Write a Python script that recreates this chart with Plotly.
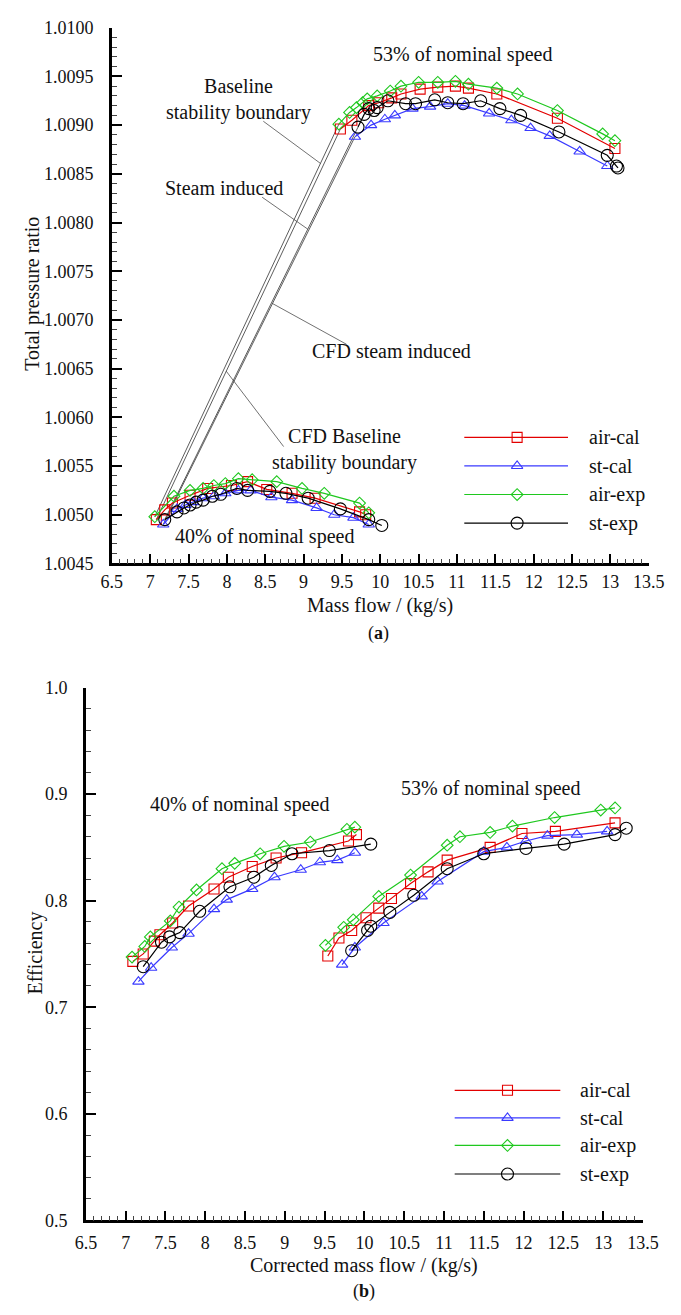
import plotly.graph_objects as go

W, H = 681, 1315
FONT = "Liberation Serif"

# ---------------- (a) total pressure ratio vs mass flow ----------------
# 40% of nominal speed
pr40_air_cal_x = [7.08, 7.19, 7.29, 7.52, 7.75, 8.06, 8.27, 8.52, 8.85, 9.15, 9.73, 9.81]
pr40_air_cal_y = [1.00495, 1.00505, 1.00512, 1.00520, 1.00527, 1.00530, 1.00534, 1.00526, 1.00522, 1.00517, 1.00503, 1.00500]
pr40_st_cal_x = [7.17, 7.35, 7.46, 7.56, 7.69, 7.83, 7.98, 8.15, 8.31, 8.58, 8.85, 9.17, 9.40, 9.65, 9.85]
pr40_st_cal_y = [1.00490, 1.00506, 1.00510, 1.00513, 1.00517, 1.00519, 1.00522, 1.00525, 1.00525, 1.00518, 1.00515, 1.00507, 1.00500, 1.00497, 1.00490]
pr40_air_exp_x = [7.06, 7.31, 7.52, 7.69, 7.83, 7.98, 8.15, 8.33, 8.65, 8.98, 9.27, 9.73, 9.85]
pr40_air_exp_y = [1.00498, 1.00519, 1.00525, 1.00527, 1.00530, 1.00532, 1.00537, 1.00536, 1.00534, 1.00527, 1.00522, 1.00512, 1.00502]
pr40_st_exp_x = [7.19, 7.35, 7.44, 7.52, 7.60, 7.69, 7.81, 7.92, 8.13, 8.27, 8.56, 8.77, 9.06, 9.48, 9.85, 10.02]
pr40_st_exp_y = [1.00495, 1.00503, 1.00507, 1.00510, 1.00513, 1.00515, 1.00519, 1.00521, 1.00527, 1.00525, 1.00524, 1.00522, 1.00517, 1.00506, 1.00495, 1.00489]

# 53% of nominal speed
pr53_air_cal_x = [9.48, 9.63, 9.85, 9.98, 10.15, 10.27, 10.52, 10.75, 10.98, 11.15, 11.52, 12.31, 13.06]
pr53_air_cal_y = [1.00896, 1.00905, 1.00920, 1.00923, 1.00928, 1.00932, 1.00937, 1.00939, 1.00940, 1.00938, 1.00932, 1.00907, 1.00876]
pr53_st_cal_x = [9.67, 9.88, 10.06, 10.19, 10.42, 10.65, 10.88, 11.10, 11.42, 11.71, 11.96, 12.21, 12.60, 12.96]
pr53_st_cal_y = [1.00888, 1.00900, 1.00906, 1.00910, 1.00917, 1.00919, 1.00922, 1.00920, 1.00912, 1.00905, 1.00897, 1.00889, 1.00873, 1.00858]
pr53_air_exp_x = [9.46, 9.60, 9.69, 9.77, 9.83, 9.96, 10.13, 10.27, 10.50, 10.75, 10.98, 11.15, 11.52, 11.79, 12.31, 12.90, 13.06]
pr53_air_exp_y = [1.00901, 1.00913, 1.00918, 1.00923, 1.00927, 1.00930, 1.00935, 1.00940, 1.00944, 1.00944, 1.00945, 1.00942, 1.00938, 1.00932, 1.00915, 1.00891, 1.00884]
pr53_st_exp_x = [9.71, 9.79, 9.85, 9.92, 9.96, 10.10, 10.33, 10.46, 10.71, 10.88, 11.08, 11.31, 11.56, 11.83, 12.33, 12.96, 13.08, 13.10]
pr53_st_exp_y = [1.00898, 1.00911, 1.00917, 1.00915, 1.00918, 1.00925, 1.00922, 1.00922, 1.00926, 1.00923, 1.00922, 1.00925, 1.00917, 1.00910, 1.00893, 1.00869, 1.00858, 1.00856]

# ---------------- (b) efficiency vs corrected mass flow ----------------
# 40% of nominal speed
ef40_air_cal_x = [7.09, 7.22, 7.36, 7.43, 7.59, 7.79, 8.11, 8.29, 8.59, 8.89, 9.21, 9.80, 9.90]
ef40_air_cal_y = [0.743, 0.750, 0.762, 0.768, 0.779, 0.795, 0.811, 0.822, 0.832, 0.840, 0.845, 0.856, 0.862]
ef40_st_cal_x = [7.16, 7.32, 7.58, 7.79, 8.11, 8.27, 8.59, 8.87, 9.20, 9.44, 9.66, 9.88]
ef40_st_cal_y = [0.724, 0.737, 0.756, 0.769, 0.792, 0.801, 0.811, 0.822, 0.829, 0.836, 0.838, 0.845]
ef40_air_exp_x = [7.08, 7.24, 7.31, 7.56, 7.67, 7.89, 8.21, 8.37, 8.69, 8.99, 9.32, 9.78, 9.88]
ef40_air_exp_y = [0.747, 0.757, 0.766, 0.781, 0.794, 0.810, 0.830, 0.835, 0.844, 0.851, 0.855, 0.867, 0.869]
ef40_st_exp_x = [7.22, 7.45, 7.55, 7.68, 7.93, 8.31, 8.61, 8.83, 9.09, 9.56, 10.08]
ef40_st_exp_y = [0.738, 0.761, 0.766, 0.770, 0.790, 0.813, 0.822, 0.833, 0.844, 0.847, 0.853]

# 53% of nominal speed
ef53_air_cal_x = [9.54, 9.68, 9.84, 10.02, 10.18, 10.34, 10.58, 10.80, 11.04, 11.58, 11.98, 12.40, 13.15]
ef53_air_cal_y = [0.748, 0.765, 0.772, 0.784, 0.793, 0.802, 0.816, 0.827, 0.838, 0.850, 0.863, 0.865, 0.873]
ef53_st_cal_x = [9.72, 9.88, 10.24, 10.72, 10.92, 11.50, 11.79, 12.03, 12.30, 12.67, 13.05]
ef53_st_cal_y = [0.740, 0.756, 0.779, 0.804, 0.818, 0.846, 0.850, 0.856, 0.861, 0.862, 0.865]
ef53_air_exp_x = [9.51, 9.74, 9.86, 10.18, 10.58, 11.04, 11.20, 11.58, 11.86, 12.39, 12.97, 13.15]
ef53_air_exp_y = [0.758, 0.775, 0.782, 0.804, 0.824, 0.852, 0.860, 0.864, 0.870, 0.878, 0.885, 0.887]
ef53_st_exp_x = [9.84, 10.04, 10.08, 10.32, 10.62, 11.04, 11.50, 12.03, 12.51, 13.15, 13.29]
ef53_st_exp_y = [0.753, 0.772, 0.776, 0.789, 0.805, 0.830, 0.844, 0.849, 0.853, 0.862, 0.868]

series_names = ["air-cal", "st-cal", "air-exp", "st-exp"]

# tick labels
flow_ticks = [6.5, 7, 7.5, 8, 8.5, 9, 9.5, 10, 10.5, 11, 11.5, 12, 12.5, 13, 13.5]
flow_tick_text = ["6.5", "7", "7.5", "8", "8.5", "9", "9.5", "10", "10.5", "11",
                  "11.5", "12", "12.5", "13", "13.5"]
pr_ticks = [1.0045, 1.0050, 1.0055, 1.0060, 1.0065, 1.0070, 1.0075, 1.0080,
            1.0085, 1.0090, 1.0095, 1.0100]
pr_tick_text = ["1.0045", "1.0050", "1.0055", "1.0060", "1.0065", "1.0070",
                "1.0075", "1.0080", "1.0085", "1.0090", "1.0095", "1.0100"]
ef_ticks = [0.5, 0.6, 0.7, 0.8, 0.9, 1.0]
ef_tick_text = ["0.5", "0.6", "0.7", "0.8", "0.9", "1.0"]

# ---------------- styles ----------------
STYLE = {
    "air-cal": dict(color="#e30000", symbol="square-open", size=10),
    "st-cal": dict(color="#3a3aff", symbol="triangle-up-open", size=10),
    "air-exp": dict(color="#1fc81f", symbol="diamond-open", size=9),
    "st-exp": dict(color="#000000", symbol="circle-open", size=12),
}

PR = {
    "air-cal": [(pr40_air_cal_x, pr40_air_cal_y), (pr53_air_cal_x, pr53_air_cal_y)],
    "st-cal": [(pr40_st_cal_x, pr40_st_cal_y), (pr53_st_cal_x, pr53_st_cal_y)],
    "air-exp": [(pr40_air_exp_x, pr40_air_exp_y), (pr53_air_exp_x, pr53_air_exp_y)],
    "st-exp": [(pr40_st_exp_x, pr40_st_exp_y), (pr53_st_exp_x, pr53_st_exp_y)],
}
EF = {
    "air-cal": [(ef40_air_cal_x, ef40_air_cal_y), (ef53_air_cal_x, ef53_air_cal_y)],
    "st-cal": [(ef40_st_cal_x, ef40_st_cal_y), (ef53_st_cal_x, ef53_st_cal_y)],
    "air-exp": [(ef40_air_exp_x, ef40_air_exp_y), (ef53_air_exp_x, ef53_air_exp_y)],
    "st-exp": [(ef40_st_exp_x, ef40_st_exp_y), (ef53_st_exp_x, ef53_st_exp_y)],
}

fig = go.Figure()


def add_curve(x, y, name, xa, ya):
    s = STYLE[name]
    fig.add_trace(go.Scatter(
        x=x, y=y, mode="lines+markers", name=name, showlegend=False,
        xaxis=xa, yaxis=ya, cliponaxis=False,
        line=dict(color=s["color"], width=1.2),
        marker=dict(symbol=s["symbol"], size=s["size"], color=s["color"],
                    line=dict(width=1.1, color=s["color"])),
    ))


# stability boundaries: first point at 40% speed joined to first point at 53% speed
boundary = {}
for name in ["air-exp", "st-exp", "st-cal", "air-cal"]:
    (x40, y40), (x53, y53) = PR[name]
    boundary[name] = ((x40[0], y40[0]), (x53[0], y53[0]))
    fig.add_trace(go.Scatter(
        x=[x40[0], x53[0]], y=[y40[0], y53[0]], mode="lines", showlegend=False,
        xaxis="x", yaxis="y", line=dict(color="#333333", width=0.8),
    ))

for name in series_names:
    for x, y in PR[name]:
        add_curve(x, y, name, "x", "y")
for name in series_names:
    for x, y in EF[name]:
        add_curve(x, y, name, "x2", "y2")

# leader lines from the boundary labels to their boundary lines
leaders = [
    ("air-exp", 0.90, 8.475, 1.00904),
    ("st-exp", 0.74, 8.46, 1.00826),
    ("st-cal", 0.57, 9.56, 1.00675),
    ("air-cal", 0.38, 8.74, 1.00570),
]
for name, t, tx, ty in leaders:
    (xa, ya), (xb, yb) = boundary[name]
    hx, hy = xa + t * (xb - xa), ya + t * (yb - ya)
    fig.add_trace(go.Scatter(
        x=[tx, hx], y=[ty, hy], mode="lines", showlegend=False,
        xaxis="x", yaxis="y", line=dict(color="#333333", width=0.7),
    ))

# hand-drawn legends on a full-page pixel overlay
LEG_TOP = dict(x0=472, x1=580, xm=527, xt=600, rows=[434, 463, 492, 521])
LEG_BOT = dict(x0=462, x1=572, xm=517, xt=590, rows=[1097, 1125, 1153, 1182])
annotations = []
for leg in (LEG_TOP, LEG_BOT):
    for name, yy in zip(series_names, leg["rows"]):
        s = STYLE[name]
        fig.add_trace(go.Scatter(
            x=[leg["x0"], leg["x1"]], y=[yy, yy], mode="lines", showlegend=False,
            xaxis="x3", yaxis="y3", line=dict(color=s["color"], width=1.2),
        ))
        fig.add_trace(go.Scatter(
            x=[leg["xm"]], y=[yy], mode="markers", showlegend=False,
            xaxis="x3", yaxis="y3", cliponaxis=False,
            marker=dict(symbol=s["symbol"], size=s["size"], color=s["color"],
                        line=dict(width=1.1, color=s["color"])),
        ))
        annotations.append(dict(
            x=leg["xt"] / W, y=1 - yy / H, xref="paper", yref="paper",
            text=name, showarrow=False, xanchor="left", yanchor="middle",
            font=dict(family=FONT, size=20, color="#111"),
        ))


def data_text(text, x, y, xa, ya, size=20):
    annotations.append(dict(
        x=x, y=y, xref=xa, yref=ya, text=text, showarrow=False,
        xanchor="center", yanchor="middle",
        font=dict(family=FONT, size=size, color="#111"),
    ))


data_text("53% of nominal speed", 11.075, 1.00973, "x", "y")
data_text("40% of nominal speed", 8.49, 1.00478, "x", "y")
data_text("Baseline<br>stability boundary", 8.15, 1.00926, "x", "y")
data_text("Steam induced", 7.96, 1.00835, "x", "y")
data_text("CFD steam induced", 10.15, 1.00668, "x", "y")
data_text("CFD Baseline<br>stability boundary", 9.54, 1.00567, "x", "y")
data_text("40% of nominal speed", 8.43, 0.890, "x2", "y2")
data_text("53% of nominal speed", 11.58, 0.905, "x2", "y2")


def page_text(text, px, py, size=20, angle=0):
    annotations.append(dict(
        x=px / W, y=1 - py / H, xref="paper", yref="paper", text=text,
        showarrow=False, xanchor="center", yanchor="middle", textangle=angle,
        font=dict(family=FONT, size=size, color="#111"),
    ))


page_text("Mass flow / (kg/s)", 384, 605)
page_text("(<b>a</b>)", 383, 633, size=18)
page_text("Total pressure ratio", 22, 288, angle=-90)
page_text("Corrected mass flow / (kg/s)", 368, 1275)
page_text("(<b>b</b>)", 368, 1301, size=18)
page_text("Efficiency", 25, 958, angle=-90)


def axis(domain, rng, tickvals, ticktext, minor, anchor, standoff):
    return dict(
        domain=domain, range=rng, anchor=anchor, tickmode="array",
        tickvals=tickvals, ticktext=ticktext, tickangle=0,
        ticks="inside", ticklen=10, tickwidth=2, tickcolor="#000",
        showline=True, linewidth=2.5, linecolor="#000", mirror=False,
        showgrid=False, zeroline=False, ticklabelstandoff=standoff,
        minor=dict(tick0=rng[0], dtick=minor, ticks="inside", ticklen=5, tickwidth=1,
                   tickcolor="#444", showgrid=False),
        tickfont=dict(family=FONT, size=18, color="#111"),
        fixedrange=True,
    )


fig.update_layout(
    width=W, height=H, margin=dict(l=0, r=0, t=0, b=0),
    paper_bgcolor="white", plot_bgcolor="rgba(0,0,0,0)",
    showlegend=False,
    xaxis=axis([105 / W, 664 / W], [6.5, 13.5], flow_ticks, flow_tick_text, 0.1, "y", 0),
    yaxis=axis([1 - 562 / H, 1 - 18 / H], [1.0045, 1.0100], pr_ticks, pr_tick_text, 0.0001, "x", 12),
    xaxis2=axis([78 / W, 658 / W], [6.5, 13.5], flow_ticks, flow_tick_text, 0.1, "y2", 4),
    yaxis2=axis([1 - 1229 / H, 1 - 688 / H], [0.5, 1.0], ef_ticks, ef_tick_text, 0.02, "x2", 12),
    xaxis3=dict(domain=[0, 1], range=[0, W], anchor="y3", visible=False, fixedrange=True),
    yaxis3=dict(domain=[0, 1], range=[H, 0], anchor="x3", visible=False, fixedrange=True),
    annotations=annotations,
)

fig.write_html("out.html")
